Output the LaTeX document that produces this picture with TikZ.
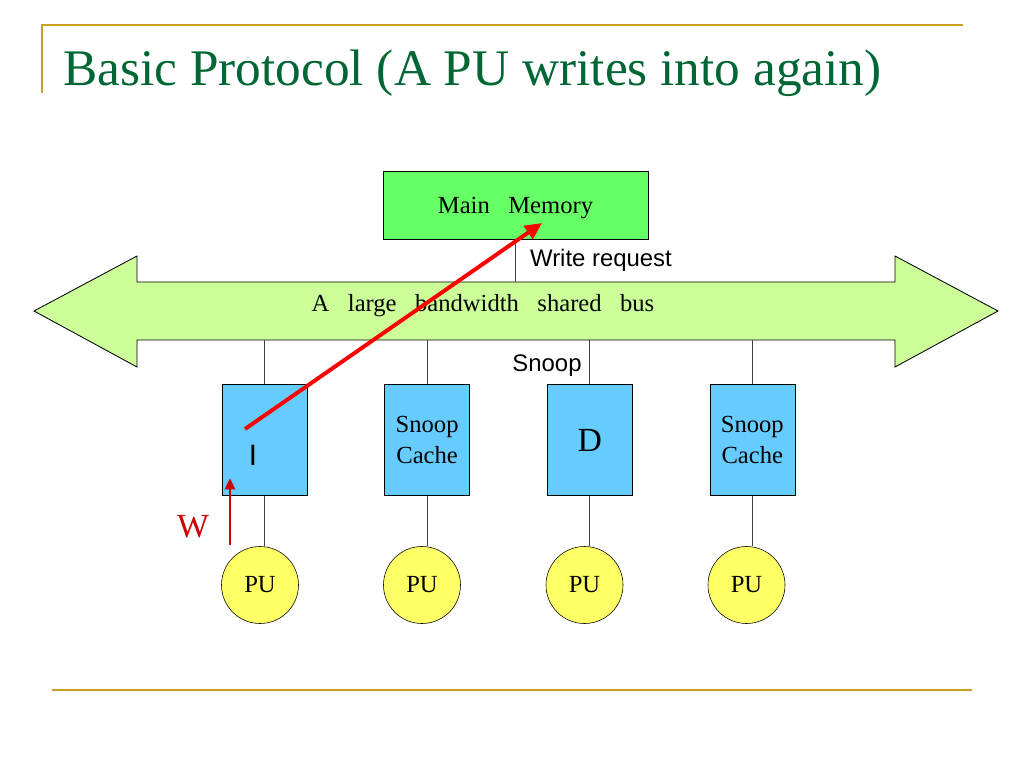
\documentclass[tikz,border=0pt]{standalone}
\usepackage{fontspec}
\setmainfont{Liberation Serif}
\setsansfont{Liberation Sans}
\usepackage{tikz}
\usetikzlibrary{positioning}
\usetikzlibrary{arrows.meta}
\definecolor{titleC}{RGB}{0,102,51}
\definecolor{ruleC}{RGB}{201,160,32}
\definecolor{memC}{RGB}{102,255,102}
\definecolor{busC}{RGB}{204,255,153}
\definecolor{cacheC}{RGB}{102,204,255}
\definecolor{puC}{RGB}{255,255,102}
\definecolor{reqC}{RGB}{255,0,0}
\definecolor{wrC}{RGB}{204,0,0}
\tikzstyle{mem}=[draw, fill=memC, shape=rectangle, minimum width=6.625cm, minimum height=1.7cm, inner sep=0pt, text depth=0pt, font=\fontsize{17.5}{20}\selectfont]
\tikzstyle{cache}=[draw, fill=cacheC, shape=rectangle, node distance=1.925cm, minimum width=2.125cm, minimum height=2.775cm, inner sep=0pt, align=center, font=\fontsize{17.5}{22}\selectfont]
\tikzstyle{pu}=[draw, fill=puC, shape=circle, minimum size=1.925cm, inner sep=0pt, font=\fontsize{17.5}{20}\selectfont]
\tikzstyle{lbl}=[inner sep=0pt, font=\sffamily\fontsize{17}{20}\selectfont]
\tikzstyle{buslane}=[shape=rectangle, minimum width=18.95cm, minimum height=1.45cm, inner sep=0pt]
\tikzstyle{wire}=[draw=black!75, line width=0.6pt]
\tikzstyle{rule}=[draw=ruleC, line width=1.4pt]
\tikzstyle{rarrow}=[line width=2.8pt, color=reqC, -{Triangle[length=12pt,width=11pt]}]
\tikzstyle{warrow}=[line width=1.8pt, color=wrC, -{Triangle[length=8pt,width=7pt]}]
\def\cache{\node[style=cache]}
\def\pu{\node[style=pu]}
\def\wire{\draw[style=wire]}
\begin{document}
\begin{tikzpicture}[x=0.025cm, y=-0.025cm]
      \useasboundingbox (0,0) rectangle (1024,768);
      % title and rules
      \draw[rule] (42,93) -- (42,25) -- (963,25);
      \draw[rule] (52,690) -- (972,690);
      \node (title) [anchor=base west, inner sep=0pt, text=titleC, font=\fontsize{36.5}{40}\selectfont] at (63,86) {Basic Protocol (A PU writes into again)};

      % memory and bus
      \node[style=mem] (mem) at (515.5,205) {Main\ \ \ Memory};
      \draw[fill=busC, line width=0.6pt] (34,311) -- (137,256) -- (137,282) -- (895,282) -- (895,256) -- (998,311)
            -- (895,367) -- (895,340) -- (137,340) -- (137,367) -- cycle;
      \node[style=buslane] (bus) at (516,311) {};
      \node (buslbl) [inner sep=0pt, font=\fontsize{17.5}{20}\selectfont] at (483,306) {A\ \ \ large\ \ \ bandwidth\ \ \ shared\ \ \ bus};
      \wire (mem.south) -- (mem.south |- bus.north);
      \node[style=lbl] (wrlbl) at (601,260) {Write request};

      % caches
      \cache (cache1) at (264.5,440) {};
      \cache (cache2) [right=of cache1] {Snoop\\Cache};
      \cache (cache3) [right=of cache2] {\fontsize{24}{26}\selectfont D};
      \cache (cache4) [right=of cache3] {Snoop\\Cache};
      \node (istate) [inner sep=0pt, font=\sffamily\fontsize{21}{24}\selectfont] at (253,455) {I};
      \node[style=lbl] (snooplbl) at (547,366) {Snoop};

      % processors
      \pu (pu1) at (260,585) {PU};
      \pu (pu2) at (422,585) {PU};
      \pu (pu3) at (584.5,585) {PU};
      \pu (pu4) at (746.5,585) {PU};

      \wire (cache1.north) -- (cache1.north |- bus.south);
      \wire (cache2.north) -- (cache2.north |- bus.south);
      \wire (cache3.north) -- (cache3.north |- bus.south);
      \wire (cache4.north) -- (cache4.north |- bus.south);
      \wire (cache1.south) -- (cache1.south |- pu1.north);
      \wire (cache2.south) -- (cache2.south |- pu2.north);
      \wire (cache3.south) -- (cache3.south |- pu3.north);
      \wire (cache4.south) -- (cache4.south |- pu4.north);

      % write and request
      \coordinate (reqfrom) at (245,429);
      \coordinate (reqto) at (542,223);
      \draw[style=rarrow] (reqfrom) -- (reqto);
      \coordinate (wfrom) at (230,545);
      \coordinate (wto) at (230,478);
      \draw[style=warrow] (wfrom) -- (wto);
      \node (wlbl) [inner sep=0pt, text=wrC, font=\fontsize{24}{26}\selectfont] at (193,527) {W};
\end{tikzpicture}
\end{document}
